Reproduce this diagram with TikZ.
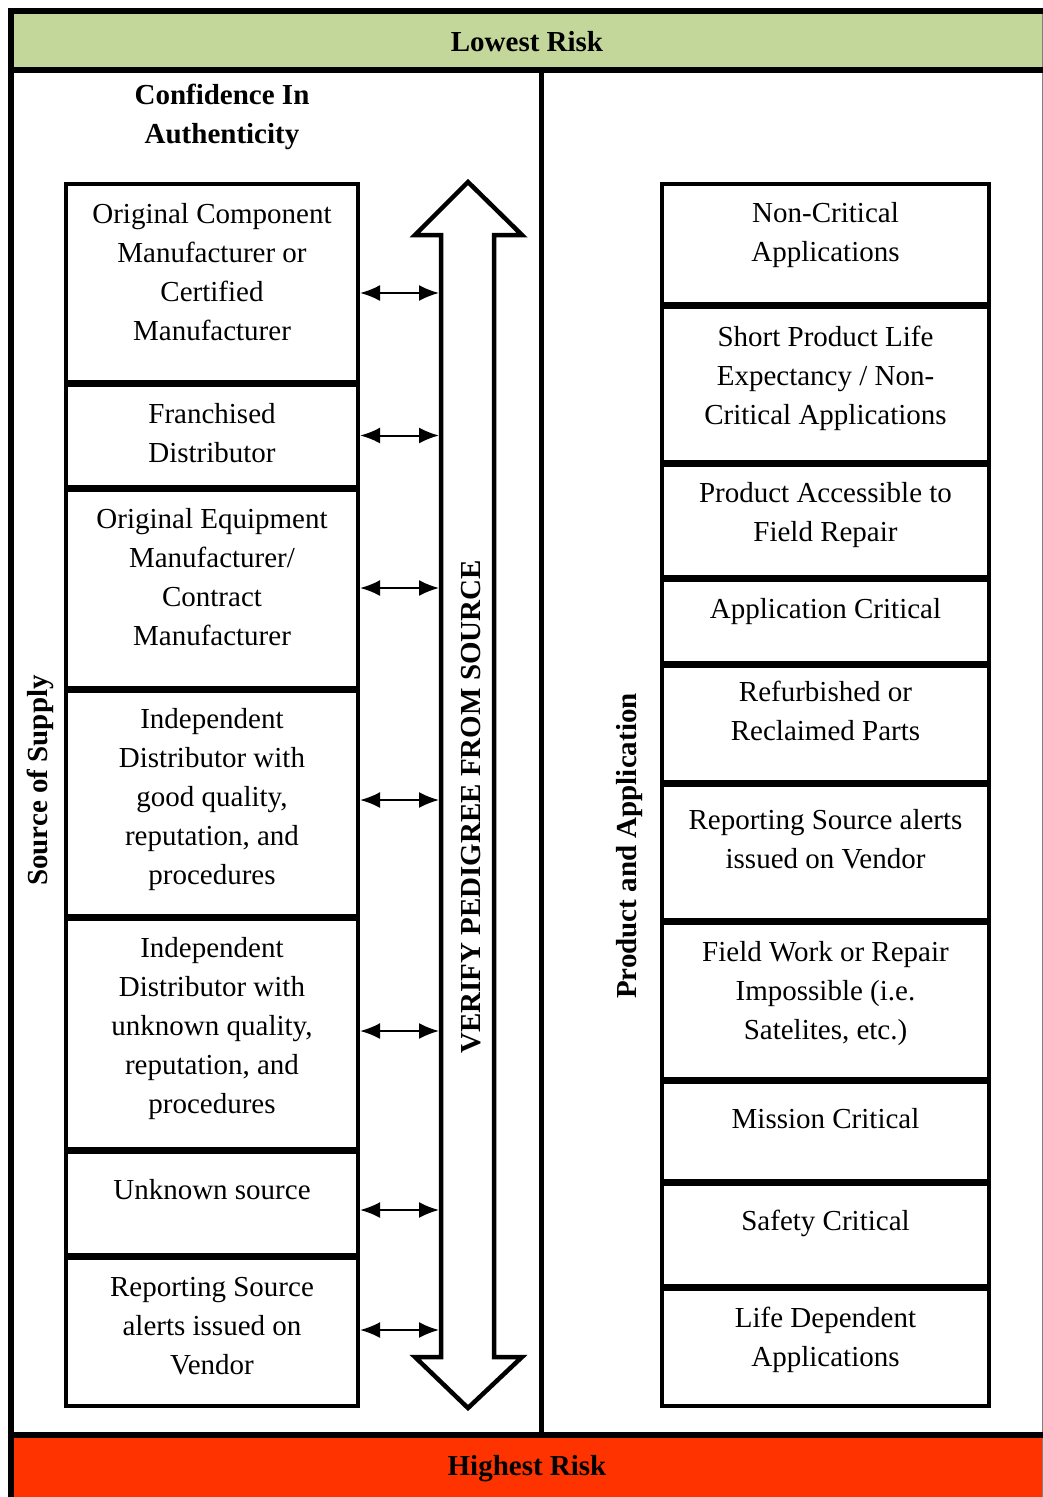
\documentclass[tikz,border=0pt]{standalone}
\usepackage{fontspec}
\setmainfont{Liberation Serif}
\usetikzlibrary{arrows.meta}
\definecolor{lowgreen}{RGB}{196,215,155}
\definecolor{highred}{RGB}{255,51,0}
\begin{document}
\begin{tikzpicture}[x=1pt,y=-1pt,
  box/.style={draw, line width=4.2pt, inner sep=0pt},
  lbox/.style={box, minimum width=292pt},
  rbox/.style={box, minimum width=327pt},
  txt/.style={anchor=north, align=center, inner sep=0pt, font=\fontsize{29}{39}\selectfont},
  ttl/.style={inner sep=0pt, font=\fontsize{29}{38.5}\selectfont\bfseries},
  link/.style={line width=2pt, {Latex[length=20pt,width=16pt]}-{Latex[length=20pt,width=16pt]}},
  bigarrow/.style={draw, line width=4.5pt, line join=miter, fill=white}]
\useasboundingbox (0,0) rectangle (1043,1497);
% frame
\fill[lowgreen] (11,11) rectangle (1043,70);
\fill[highred] (11,1435) rectangle (1043,1497);
\draw[gray, line width=1pt] (1042,11) -- (1042,1497);
\draw[line width=6.5pt, line join=miter] (1043,11) -- (11,11) -- (11,1497);
\draw[line width=5.5pt] (11,70) -- (1043,70);
\draw[line width=5.5pt] (11,1435) -- (1043,1435);
\draw[line width=5pt] (541,70) -- (541,1435);
% titles
\node[ttl, anchor=base] (low) at (527,51.5) {Lowest Risk};
\node[ttl, anchor=base] (high) at (527,1475.5) {Highest Risk};
\node[ttl, anchor=north, align=center] (conf) at (222,84) {Confidence In\\Authenticity};
\node[ttl, anchor=base, rotate=90] (src) at (47,780.5) {Source of Supply};
\node[ttl, anchor=base, rotate=90] (prod) at (636,846) {Product and Application};
% big double arrow
\draw[bigarrow] (468,182) -- (522,235) -- (494,235) -- (494,1357) -- (522,1357) -- (468,1408)
  -- (415,1357) -- (441,1357) -- (441,235) -- (415,235) -- cycle;
\node[ttl, anchor=base, rotate=90] (ver) at (480.5,807) {VERIFY PEDIGREE FROM SOURCE};
% left boxes
\node[lbox, minimum height=198pt] (l1) at (212,283) {};
\node[lbox, minimum height=102pt] (l2) at (212,436) {};
\node[lbox, minimum height=198pt] (l3) at (212,589) {};
\node[lbox, minimum height=225pt] (l4) at (212,803.5) {};
\node[lbox, minimum height=230pt] (l5) at (212,1034) {};
\node[lbox, minimum height=103pt] (l6) at (212,1203.5) {};
\node[lbox, minimum height=148pt] (l7) at (212,1332) {};
\node[txt] (l1t) at (212,203) {Original Component\\Manufacturer or\\Certified\\Manufacturer};
\node[txt] (l2t) at (212,403) {Franchised\\Distributor};
\node[txt] (l3t) at (212,508) {Original Equipment\\Manufacturer/\\Contract\\Manufacturer};
\node[txt] (l4t) at (212,708) {Independent\\Distributor with\\good quality,\\reputation, and\\procedures};
\node[txt] (l5t) at (212,937) {Independent\\Distributor with\\unknown quality,\\reputation, and\\procedures};
\node[txt] (l6t) at (212,1179) {Unknown source};
\node[txt] (l7t) at (212,1277) {Reporting Source\\alerts issued on\\Vendor};
% right boxes
\node[rbox, minimum height=120pt] (r1) at (825.5,244) {};
\node[rbox, minimum height=155pt] (r2) at (825.5,384.5) {};
\node[rbox, minimum height=112pt] (r3) at (825.5,521) {};
\node[rbox, minimum height=83pt] (r4) at (825.5,621.5) {};
\node[rbox, minimum height=116pt] (r5) at (825.5,724) {};
\node[rbox, minimum height=135pt] (r6) at (825.5,852.5) {};
\node[rbox, minimum height=156pt] (r7) at (825.5,1001) {};
\node[rbox, minimum height=99pt] (r8) at (825.5,1131.5) {};
\node[rbox, minimum height=102pt] (r9) at (825.5,1235) {};
\node[rbox, minimum height=117pt] (r10) at (825.5,1347.5) {};
\node[txt] (r1t) at (825.5,202) {Non-Critical\\Applications};
\node[txt] (r2t) at (825.5,326) {Short Product Life\\Expectancy / Non-\\Critical Applications};
\node[txt] (r3t) at (825.5,482) {Product Accessible to\\Field Repair};
\node[txt] (r4t) at (825.5,598) {Application Critical};
\node[txt] (r5t) at (825.5,681) {Refurbished or\\Reclaimed Parts};
\node[txt] (r6t) at (825.5,809) {Reporting Source alerts\\issued on Vendor};
\node[txt] (r7t) at (825.5,941) {Field Work or Repair\\Impossible (i.e.\\Satelites, etc.)};
\node[txt] (r8t) at (825.5,1108) {Mission Critical};
\node[txt] (r9t) at (825.5,1210) {Safety Critical};
\node[txt] (r10t) at (825.5,1307) {Life Dependent\\Applications};
% connectors to the shaft
\coordinate (a1) at (439,293);
\coordinate (a2) at (439,435.5);
\coordinate (a3) at (439,588);
\coordinate (a4) at (439,800);
\coordinate (a5) at (439,1031);
\coordinate (a6) at (439,1210);
\coordinate (a7) at (439,1330);
\foreach \i in {1,...,7} {
  \draw[link] (l\i.east |- a\i) -- (a\i);
}
\end{tikzpicture}
\end{document}
